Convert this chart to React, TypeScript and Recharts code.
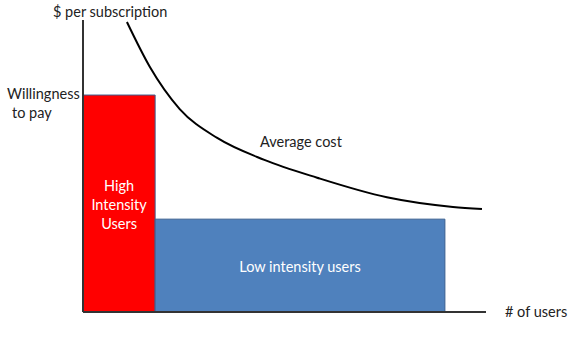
import { ComposedChart, Line, XAxis, YAxis, ReferenceArea, ReferenceLine } from "recharts";

// segments: [x start, x end, willingness to pay]
const segNames = ["High Intensity Users", "Low intensity users"];
const segX1 = [0, 17.9];
const segX2 = [17.9, 89.8];
const segY = [74.3, 31.8];
const segFill = ["#ff0000", "#4f81bd"];

// average cost curve
const costX = [10.9, 16.6, 24, 33.3, 45, 58.1, 75.4, 91.8, 99.0];
const costY = [99.3, 83.9, 69.5, 59.6, 52.1, 46.0, 39.3, 36.0, 35.3];

const costData = costX.map((x, i) => ({ x, cost: costY[i] }));

const font = "Lato, 'Open Sans', sans-serif";

const AreaLabel = (lines: string[], size: number) => (props: any) => {
  const { x, y, width, height } = props.viewBox;
  const cx = x + width / 2;
  const cy = y + height / 2;
  const lh = 19;
  const top = cy - ((lines.length - 1) * lh) / 2;
  return (
    <text
      textAnchor="middle"
      fill="#ffffff"
      fontSize={size}
      fontFamily={font}
      dominantBaseline="central"
    >
      {lines.map((l, i) => (
        <tspan key={i} x={cx} y={top + i * lh}>
          {l}
        </tspan>
      ))}
    </text>
  );
};

const txt: React.CSSProperties = {
  position: "absolute",
  fontFamily: font,
  fontSize: 14.5,
  color: "#222",
  whiteSpace: "nowrap",
  lineHeight: "18px",
};

export default function App() {
  return (
    <div style={{ position: "relative", width: 583, height: 357, background: "#fff" }}>
      <style>{"body{margin:0}"}</style>
      <ComposedChart
        width={583}
        height={357}
        data={costData}
        margin={{ top: 20, right: 97, bottom: 45, left: 83 }}
      >
        <XAxis type="number" dataKey="x" domain={[0, 100]} hide />
        <YAxis type="number" domain={[0, 100]} hide />
        <ReferenceLine
          segment={[{ x: 0, y: 0 }, { x: 0, y: 100 }]}
          stroke="#333"
          strokeWidth={2}
        />
        <ReferenceLine
          segment={[{ x: 0, y: 0 }, { x: 100, y: 0 }]}
          stroke="#333"
          strokeWidth={2}
        />
        {segNames.map((n, i) => (
          <ReferenceArea
            key={n}
            x1={segX1[i]}
            x2={segX2[i]}
            y1={0}
            y2={segY[i]}
            fill={segFill[i]}
            fillOpacity={1}
            stroke="#3a5f8f"
            strokeWidth={1}
            label={AreaLabel(
              i === 0 ? ["High", "Intensity", "Users"] : [n],
              14.5
            )}
          />
        ))}
        <Line
          type="monotone"
          dataKey="cost"
          stroke="#000"
          strokeWidth={2}
          dot={false}
          isAnimationActive={false}
        />
      </ComposedChart>
      <div style={{ ...txt, left: 53, top: 3 }}>$ per subscription</div>
      <div style={{ ...txt, left: 7, top: 85 }}>Willingness</div>
      <div style={{ ...txt, left: 12, top: 104 }}>to pay</div>
      <div style={{ ...txt, left: 260, top: 133 }}>Average cost</div>
      <div style={{ ...txt, left: 505, top: 303 }}># of users</div>
    </div>
  );
}
